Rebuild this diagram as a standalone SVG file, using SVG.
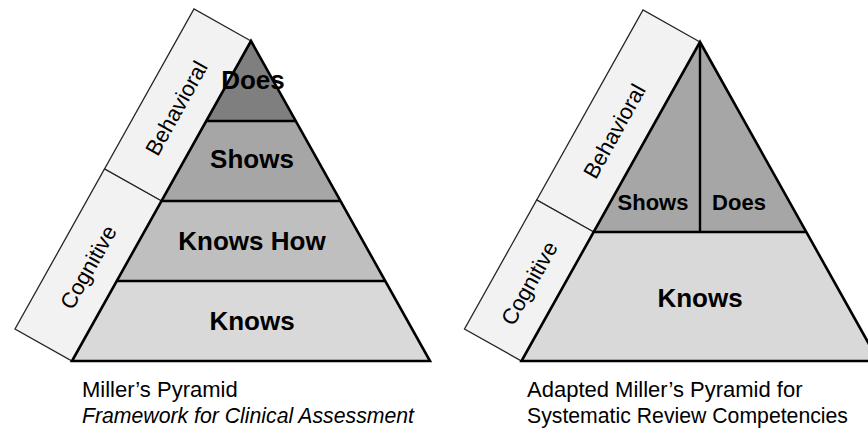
<svg xmlns="http://www.w3.org/2000/svg" width="868" height="431" viewBox="0 0 868 431">
<style>
.band{fill:#f2f2f2;stroke:#262626;stroke-width:1.3;stroke-linejoin:miter}
.edge{fill:none;stroke:#000;stroke-width:2.6;stroke-linejoin:miter}
.div{stroke:#000;stroke-width:2.4}
.lvl{font-family:"Liberation Sans",Arial,sans-serif;font-weight:bold;font-size:26px;fill:#000;text-anchor:middle}
.lvl.sm{font-size:22px}
.side{font-family:"Liberation Sans",Arial,sans-serif;font-size:22px;fill:#000;text-anchor:middle}
.cap{font-family:"Liberation Sans",Arial,sans-serif;font-size:22px;fill:#000}
</style>
<rect width="868" height="431" fill="#fff"/>

<!-- Left pyramid -->
<g id="left-behavioral">
<polygon class="band" points="251,41 194,9 104.5,169 161.5,201"/>
<text class="side" transform="translate(176,108) rotate(-60.8)" x="0" y="8">Behavioral</text>
</g>
<g id="left-cognitive">
<polygon class="band" points="161.5,201 104.5,169 15,329 72,361"/>
<text class="side" transform="translate(88,267) rotate(-60.8)" x="0" y="8">Cognitive</text>
</g>
<g id="left-does">
<polygon points="251,41 295.75,121 206.25,121" fill="#7f7f7f"/>
</g>
<g id="left-shows">
<polygon points="206.25,121 295.75,121 340.5,201 161.5,201" fill="#a6a6a6"/>
<text class="lvl" x="252" y="168">Shows</text>
</g>
<g id="left-knowshow">
<polygon points="161.5,201 340.5,201 385.25,281 116.75,281" fill="#bfbfbf"/>
<text class="lvl" x="252" y="250">Knows How</text>
</g>
<g id="left-knows">
<polygon points="116.75,281 385.25,281 430,361 72,361" fill="#d9d9d9"/>
<text class="lvl" x="252" y="330">Knows</text>
</g>
<g id="left-lines">
<polygon class="edge" points="251,41 430,361 72,361"/>
<line class="div" x1="206.25" y1="121" x2="295.75" y2="121"/>
<line class="div" x1="161.5" y1="201" x2="340.5" y2="201"/>
<line class="div" x1="116.75" y1="281" x2="385.25" y2="281"/>
</g>
<g id="left-does-label">
<text class="lvl" x="253" y="89">Does</text>
</g>
<g id="left-caption">
<text class="cap" x="82" y="397">Miller’s Pyramid</text>
<text class="cap" x="82" y="423" font-style="italic" textLength="332" lengthAdjust="spacingAndGlyphs">Framework for Clinical Assessment</text>
</g>

<!-- Right pyramid -->
<g id="right-behavioral">
<polygon class="band" points="700,42 643,10 536.7,200 593.7,232"/>
<text class="side" transform="translate(614,131) rotate(-60.8)" x="0" y="8">Behavioral</text>
</g>
<g id="right-cognitive">
<polygon class="band" points="593.7,232 536.7,200 464.5,329 521.5,361"/>
<text class="side" transform="translate(529,283) rotate(-60.8)" x="0" y="8">Cognitive</text>
</g>
<g id="right-shows">
<polygon points="700,42 700,232 593.7,232" fill="#a6a6a6"/>
<text class="lvl sm" x="653" y="210">Shows</text>
</g>
<g id="right-does">
<polygon points="700,42 806.3,232 700,232" fill="#a6a6a6"/>
<text class="lvl sm" x="739" y="210">Does</text>
</g>
<g id="right-knows">
<polygon points="593.7,232 806.3,232 878.5,361 521.5,361" fill="#d9d9d9"/>
<text class="lvl" x="700" y="307">Knows</text>
</g>
<g id="right-lines">
<polygon class="edge" points="700,42 878.5,361 521.5,361"/>
<line class="div" x1="593.7" y1="232" x2="806.3" y2="232"/>
<line class="div" x1="700" y1="42" x2="700" y2="232"/>
</g>
<g id="right-caption">
<text class="cap" x="527" y="397">Adapted Miller’s Pyramid for</text>
<text class="cap" x="527" y="423" textLength="321" lengthAdjust="spacingAndGlyphs">Systematic Review Competencies</text>
</g>
<g id="connectors"/>
</svg>
